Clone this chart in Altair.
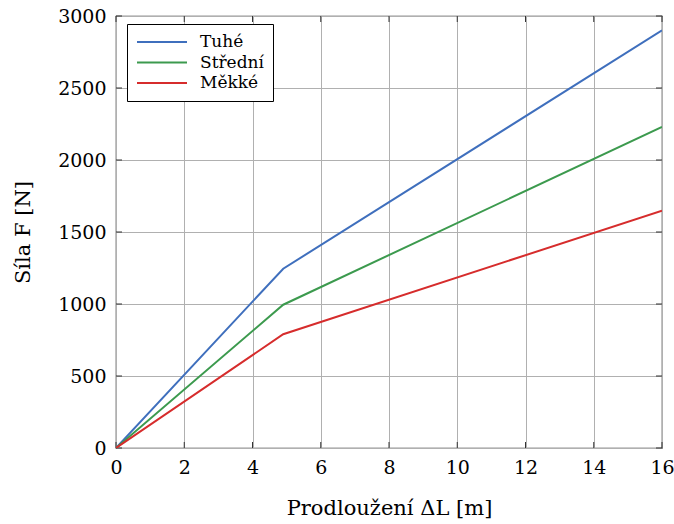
import altair as alt
import pandas as pd

# ---- data ----
x_vals = [0, 4.9, 16]
tuhe = [0, 1245, 2900]
stredni = [0, 995, 2230]
mekke = [0, 790, 1648]
series_names = ["Tuhé", "Střední", "Měkké"]
series_colors = ["#3f6fbd", "#3c9a4e", "#d62c2c"]
x_ticks = [0, 2, 4, 6, 8, 10, 12, 14, 16]
y_ticks = [0, 500, 1000, 1500, 2000, 2500, 3000]

rows = []
for name, vals in zip(series_names, [tuhe, stredni, mekke]):
    for xv, yv in zip(x_vals, vals):
        rows.append({"x": xv, "y": yv, "series": name})
df = pd.DataFrame(rows)
xt = pd.DataFrame({"x": x_ticks})
yt = pd.DataFrame({"y": y_ticks})

FONT = "DejaVu Serif"
W, H = 546, 432

xscale = alt.Scale(domain=[0, 16], nice=False, zero=False)
yscale = alt.Scale(domain=[0, 3000], nice=False)

lines = alt.Chart(df).mark_line(strokeWidth=2, clip=True).encode(
    x=alt.X("x:Q", scale=xscale,
            axis=alt.Axis(values=x_ticks, title="Prodloužení ΔL [m]", format="d",
                          grid=True, ticks=False, domain=False, labelFlush=False,
                          labelPadding=10, titlePadding=20)),
    y=alt.Y("y:Q", scale=yscale,
            axis=alt.Axis(values=y_ticks, title="Síla F [N]", format="d",
                          grid=True, ticks=False, domain=False, labelFlush=False,
                          labelPadding=10, titlePadding=24)),
    color=alt.Color("series:N",
                    scale=alt.Scale(domain=series_names, range=series_colors),
                    sort=series_names,
                    legend=alt.Legend(title=None, orient="none", legendX=11, legendY=8,
                                      symbolType="stroke", symbolSize=2500,
                                      symbolStrokeWidth=2, clipHeight=18,
                                      rowPadding=2.5, labelOffset=12,
                                      labelFont=FONT, labelFontSize=17,
                                      labelColor="black",
                                      strokeColor="black", fillColor="white",
                                      padding=9, cornerRadius=0)),
)

tick_col = "#333333"
tb = alt.Chart(xt).mark_rule(color=tick_col).encode(
    x=alt.X("x:Q", scale=xscale), y=alt.value(H), y2=alt.value(H - 6))
tt = alt.Chart(xt).mark_rule(color=tick_col).encode(
    x=alt.X("x:Q", scale=xscale), y=alt.value(0), y2=alt.value(6))
tl = alt.Chart(yt).mark_rule(color=tick_col).encode(
    y=alt.Y("y:Q", scale=yscale), x=alt.value(0), x2=alt.value(6))
tr = alt.Chart(yt).mark_rule(color=tick_col).encode(
    y=alt.Y("y:Q", scale=yscale), x=alt.value(W), x2=alt.value(W - 6))

chart = alt.layer(tb, tt, tl, tr, lines).properties(
    width=W, height=H,
    autosize=alt.AutoSizeParams(type="none"),
    padding={"left": 116, "top": 16, "right": 12, "bottom": 76},
    background="white",
).configure_view(
    stroke="#333333", strokeWidth=1.2
).configure_axis(
    gridColor="#b0b0b0", gridWidth=1, gridOpacity=1,
    labelFont=FONT, labelFontSize=19, labelColor="black",
    titleFont=FONT, titleFontSize=21, titleColor="black", titleFontWeight="normal",
)

chart.save("out.html", embed_options={"renderer": "svg", "actions": False})
